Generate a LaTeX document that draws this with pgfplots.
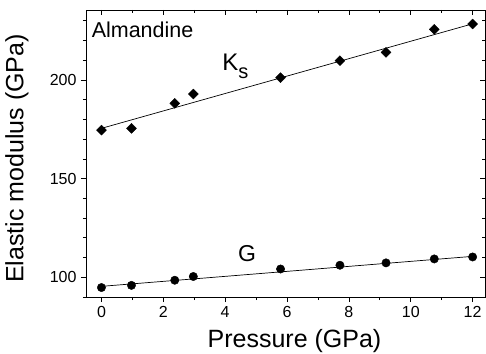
\documentclass[border=0pt]{standalone}
\usepackage{pgfplots}
\pgfplotsset{compat=1.18}
\usepackage{fontspec}
\setmainfont{Liberation Sans}
\begin{document}
\begin{tikzpicture}
\useasboundingbox (-86pt,-56pt) rectangle (400pt,297pt);
\begin{axis}[
  at={(0pt,0pt)}, anchor=south west,
  scale only axis, width=399pt, height=287pt,
  xmin=-0.5, xmax=12.4, ymin=90, ymax=235.5,
  xtick={0,2,...,12}, minor xtick={1,3,...,11},
  ytick={100,150,200}, minor ytick={90,110,120,130,140,160,170,180,190,210,220,230},
  tick align=outside, xtick pos=left, ytick pos=left,
  major tick length=5pt, minor tick length=3pt,
  every tick/.style={black, line width=0.7pt},
  axis line style={line width=0.8pt},
  /pgf/number format/assume math mode=true,
  ticklabel style={font=\fontsize{16}{18}\selectfont},
  xticklabel style={yshift=-1pt},
  yticklabel style={xshift=-1pt},
  xlabel={Pressure (GPa)}, ylabel={Elastic modulus (GPa)},
  label style={font=\fontsize{25}{28}\selectfont},
  xlabel style={at={(axis description cs:0.5,0)}, anchor=base, yshift=-50pt, xshift=9pt},
  ylabel style={at={(axis description cs:0,0.5)}, anchor=south, yshift=54pt, xshift=-5pt},
  clip=false,
]
\addplot[black, line width=0.7pt] coordinates {(0,175.5) (12,228.5)};
\addplot[black, line width=0.7pt] coordinates {(0,95.4) (12,110.6)};
\addplot[only marks, mark=square*, mark options={rotate=45}, mark size=3.5pt, black] coordinates {
(0,174.6) (0.97,175.5) (2.37,188.2) (2.97,192.9) (5.79,201.2) (7.71,209.8) (9.2,214.0) (10.76,225.7) (12,228.4)};
\addplot[only marks, mark=*, mark size=4.2pt, black] coordinates {
(0,94.8) (0.97,95.9) (2.37,98.5) (2.97,100.4) (5.79,104.2) (7.71,106.1) (9.2,107.3) (10.76,109.3) (12,110.3)};
\node[anchor=base west, font=\fontsize{21.5}{24}\selectfont, inner sep=0pt] at (axis cs:-0.32,221.8) {Almandine};
\node[anchor=base west, font=\fontsize{24}{26}\selectfont, inner sep=0pt] at (axis cs:3.9,205) {K\raisebox{-8pt}{\fontsize{20}{21}\selectfont s}};
\node[anchor=base west, font=\fontsize{23}{26}\selectfont, inner sep=0pt] at (axis cs:4.41,107.8) {G};
\end{axis}
\begin{axis}[
  at={(0pt,0pt)}, anchor=south west,
  scale only axis, width=399pt, height=287pt,
  xmin=-0.5, xmax=12.4, ymin=90, ymax=235.5,
  xtick={0,2,...,12}, minor xtick={1,3,...,11},
  ytick={100,150,200}, minor ytick={90,110,120,130,140,160,170,180,190,210,220,230},
  tick align=inside, xtick pos=right, ytick pos=right,
  major tick length=5pt, minor tick length=3pt,
  every tick/.style={black, line width=0.7pt},
  axis line style={line width=0.8pt},
  xticklabels={}, yticklabels={},
]
\end{axis}
\end{tikzpicture}
\end{document}
